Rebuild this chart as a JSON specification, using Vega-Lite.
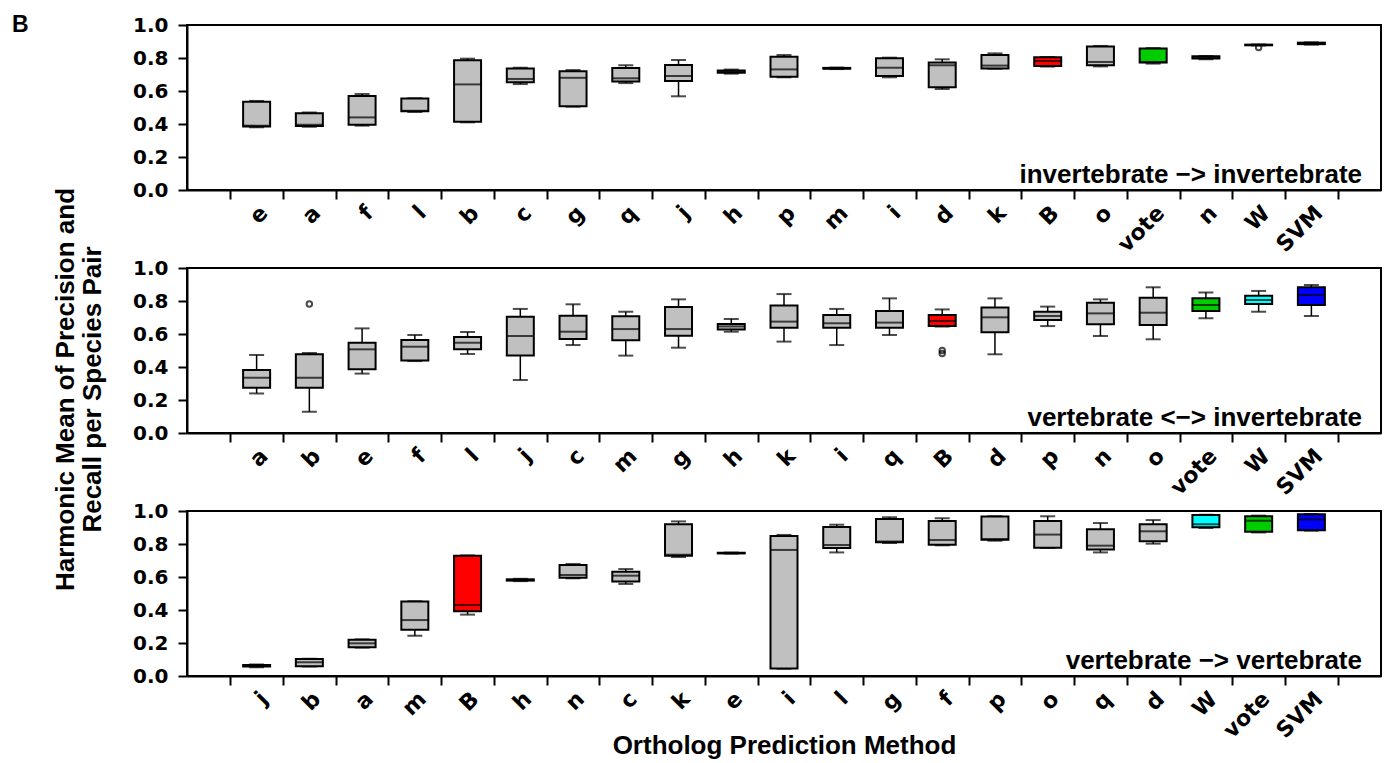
{
  "$schema": "https://vega.github.io/schema/vega-lite/v6.json",
  "padding": {"left": 12, "top": 14, "right": 5, "bottom": 5},
  "background": "white",
  "title": {"text": "B", "anchor": "start", "frame": "group", "dx": -175, "dy": 41, "offset": 0, "baseline": "alphabetic", "font": "Liberation Sans", "fontSize": 23, "fontWeight": "bold", "color": "black"},
  "bounds": "flush",
  "spacing": 78,
  "datasets": {
    "p1": [
      {"method": "e", "lower": 0.38, "q1": 0.385, "median": 0.39, "q3": 0.535, "upper": 0.54},
      {"method": "a", "lower": 0.383, "q1": 0.388, "median": 0.395, "q3": 0.465, "upper": 0.47},
      {"method": "f", "lower": 0.39, "q1": 0.395, "median": 0.44, "q3": 0.57, "upper": 0.582},
      {"method": "l", "lower": 0.473, "q1": 0.477, "median": 0.48, "q3": 0.554, "upper": 0.556},
      {"method": "b", "lower": 0.41, "q1": 0.414, "median": 0.64, "q3": 0.786, "upper": 0.796},
      {"method": "c", "lower": 0.642, "q1": 0.653, "median": 0.673, "q3": 0.737, "upper": 0.741},
      {"method": "g", "lower": 0.505, "q1": 0.508, "median": 0.68, "q3": 0.719, "upper": 0.727},
      {"method": "q", "lower": 0.648, "q1": 0.657, "median": 0.677, "q3": 0.739, "upper": 0.756},
      {"method": "j", "lower": 0.568, "q1": 0.661, "median": 0.691, "q3": 0.758, "upper": 0.788},
      {"method": "h", "lower": 0.705, "q1": 0.71, "median": 0.717, "q3": 0.725, "upper": 0.73},
      {"method": "p", "lower": 0.683, "q1": 0.687, "median": 0.731, "q3": 0.808, "upper": 0.818},
      {"method": "m", "lower": 0.733, "q1": 0.735, "median": 0.737, "q3": 0.74, "upper": 0.742},
      {"method": "i", "lower": 0.683, "q1": 0.691, "median": 0.741, "q3": 0.798, "upper": 0.802},
      {"method": "d", "lower": 0.612, "q1": 0.622, "median": 0.756, "q3": 0.772, "upper": 0.792},
      {"method": "k", "lower": 0.735, "q1": 0.737, "median": 0.754, "q3": 0.818, "upper": 0.828},
      {"method": "B", "lower": 0.748, "q1": 0.752, "median": 0.782, "q3": 0.804, "upper": 0.806},
      {"method": "o", "lower": 0.749, "q1": 0.756, "median": 0.776, "q3": 0.869, "upper": 0.873},
      {"method": "vote", "lower": 0.766, "q1": 0.772, "median": 0.775, "q3": 0.857, "upper": 0.86},
      {"method": "n", "lower": 0.792, "q1": 0.797, "median": 0.804, "q3": 0.81, "upper": 0.812},
      {"method": "W", "lower": 0.876, "q1": 0.877, "median": 0.879, "q3": 0.881, "upper": 0.882},
      {"method": "SVM", "lower": 0.881, "q1": 0.884, "median": 0.889, "q3": 0.893, "upper": 0.895}
    ],
    "o1": [
      {"method": "W", "value": 0.863}
    ],
    "p2": [
      {"method": "a", "lower": 0.24, "q1": 0.275, "median": 0.335, "q3": 0.382, "upper": 0.473},
      {"method": "b", "lower": 0.129, "q1": 0.275, "median": 0.335, "q3": 0.477, "upper": 0.485},
      {"method": "e", "lower": 0.36, "q1": 0.386, "median": 0.507, "q3": 0.547, "upper": 0.634},
      {"method": "f", "lower": 0.436, "q1": 0.44, "median": 0.523, "q3": 0.564, "upper": 0.594},
      {"method": "l", "lower": 0.479, "q1": 0.507, "median": 0.547, "q3": 0.582, "upper": 0.612},
      {"method": "j", "lower": 0.321, "q1": 0.469, "median": 0.588, "q3": 0.705, "upper": 0.752},
      {"method": "c", "lower": 0.533, "q1": 0.57, "median": 0.614, "q3": 0.711, "upper": 0.78},
      {"method": "m", "lower": 0.469, "q1": 0.562, "median": 0.63, "q3": 0.707, "upper": 0.735},
      {"method": "g", "lower": 0.517, "q1": 0.59, "median": 0.63, "q3": 0.764, "upper": 0.81},
      {"method": "h", "lower": 0.614, "q1": 0.628, "median": 0.646, "q3": 0.661, "upper": 0.691},
      {"method": "k", "lower": 0.554, "q1": 0.638, "median": 0.675, "q3": 0.772, "upper": 0.842},
      {"method": "i", "lower": 0.533, "q1": 0.638, "median": 0.665, "q3": 0.715, "upper": 0.752},
      {"method": "q", "lower": 0.594, "q1": 0.638, "median": 0.669, "q3": 0.739, "upper": 0.816},
      {"method": "B", "lower": 0.645, "q1": 0.648, "median": 0.679, "q3": 0.715, "upper": 0.749},
      {"method": "d", "lower": 0.477, "q1": 0.61, "median": 0.701, "q3": 0.76, "upper": 0.816},
      {"method": "p", "lower": 0.648, "q1": 0.685, "median": 0.709, "q3": 0.735, "upper": 0.766},
      {"method": "n", "lower": 0.588, "q1": 0.659, "median": 0.725, "q3": 0.79, "upper": 0.81},
      {"method": "o", "lower": 0.568, "q1": 0.655, "median": 0.729, "q3": 0.82, "upper": 0.883},
      {"method": "vote", "lower": 0.695, "q1": 0.739, "median": 0.776, "q3": 0.816, "upper": 0.851},
      {"method": "W", "lower": 0.735, "q1": 0.782, "median": 0.806, "q3": 0.832, "upper": 0.861},
      {"method": "SVM", "lower": 0.709, "q1": 0.776, "median": 0.836, "q3": 0.883, "upper": 0.897}
    ],
    "o2": [
      {"method": "b", "value": 0.782},
      {"method": "B", "value": 0.482},
      {"method": "B", "value": 0.5}
    ],
    "p3": [
      {"method": "j", "lower": 0.053, "q1": 0.057, "median": 0.062, "q3": 0.066, "upper": 0.07},
      {"method": "b", "lower": 0.057, "q1": 0.059, "median": 0.083, "q3": 0.103, "upper": 0.105},
      {"method": "a", "lower": 0.172, "q1": 0.174, "median": 0.198, "q3": 0.22, "upper": 0.222},
      {"method": "m", "lower": 0.244, "q1": 0.281, "median": 0.339, "q3": 0.451, "upper": 0.453},
      {"method": "B", "lower": 0.372, "q1": 0.392, "median": 0.43, "q3": 0.729, "upper": 0.731},
      {"method": "h", "lower": 0.575, "q1": 0.578, "median": 0.582, "q3": 0.586, "upper": 0.589},
      {"method": "n", "lower": 0.592, "q1": 0.596, "median": 0.612, "q3": 0.673, "upper": 0.679},
      {"method": "c", "lower": 0.558, "q1": 0.572, "median": 0.608, "q3": 0.632, "upper": 0.648},
      {"method": "k", "lower": 0.721, "q1": 0.729, "median": 0.735, "q3": 0.919, "upper": 0.937},
      {"method": "e", "lower": 0.742, "q1": 0.743, "median": 0.745, "q3": 0.747, "upper": 0.748},
      {"method": "i", "lower": 0.044, "q1": 0.046, "median": 0.764, "q3": 0.848, "upper": 0.855},
      {"method": "l", "lower": 0.749, "q1": 0.776, "median": 0.794, "q3": 0.903, "upper": 0.917},
      {"method": "g", "lower": 0.806, "q1": 0.81, "median": 0.815, "q3": 0.952, "upper": 0.962},
      {"method": "f", "lower": 0.792, "q1": 0.796, "median": 0.824, "q3": 0.939, "upper": 0.956},
      {"method": "p", "lower": 0.82, "q1": 0.826, "median": 0.83, "q3": 0.966, "upper": 0.968},
      {"method": "o", "lower": 0.776, "q1": 0.778, "median": 0.857, "q3": 0.939, "upper": 0.968},
      {"method": "q", "lower": 0.749, "q1": 0.766, "median": 0.79, "q3": 0.889, "upper": 0.927},
      {"method": "d", "lower": 0.802, "q1": 0.816, "median": 0.877, "q3": 0.919, "upper": 0.945},
      {"method": "W", "lower": 0.897, "q1": 0.901, "median": 0.919, "q3": 0.976, "upper": 0.978},
      {"method": "vote", "lower": 0.87, "q1": 0.875, "median": 0.941, "q3": 0.968, "upper": 0.972},
      {"method": "SVM", "lower": 0.881, "q1": 0.883, "median": 0.949, "q3": 0.98, "upper": 0.982}
    ]
  },
  "config": {
    "font": "Liberation Sans",
    "view": {"stroke": "black", "strokeWidth": 2},
    "axis": {"domainColor": "black", "domainWidth": 2, "tickColor": "black", "tickWidth": 2, "labelColor": "black", "titleColor": "black", "grid": false},
    "axisY": {"labelOverlap": false, "labelFont": "DejaVu Sans", "labelFontWeight": "bold", "labelFontSize": 20, "tickSize": 9, "labelPadding": 10, "labelBound": false, "format": ".1f"},
    "text": {"font": "Liberation Sans"}
  },
  "vconcat": [
    {
      "width": 1194, "height": 165,
      "layer": [
        {
          "data": {"name": "p1"},
          "mark": {"type": "rule", "color": "black", "strokeWidth": 1.5},
          "encoding": {
            "x": {"field": "method", "type": "nominal", "scale": {"domain": ["e","a","f","l","b","c","g","q","j","h","p","m","i","d","k","B","o","vote","n","W","SVM"], "paddingInner": 0, "paddingOuter": 0.82}, "axis": {"title": null, "tickBand": "extent", "labelAngle": -45, "labelAlign": "right", "labelBaseline": "top", "labelFont": "DejaVu Sans", "labelFontWeight": "bold", "labelFontSize": 22, "labelPadding": 3, "tickSize": 9, "labelOverlap": false, "labelBound": false}},
            "y": {"field": "lower", "type": "quantitative", "scale": {"domain": [0, 1], "nice": false}, "axis": {"title": null, "values": [0, 0.2, 0.4, 0.6, 0.8, 1], "format": ".1f", "labelOverlap": false}},
            "y2": {"field": "upper"}
          }
        },
        {
          "data": {"name": "p1"},
          "mark": {"type": "tick", "color": "black", "size": 15, "thickness": 2},
          "encoding": {"x": {"field": "method", "type": "nominal"}, "y": {"field": "lower", "type": "quantitative", "axis": {"title": null, "values": [0, 0.2, 0.4, 0.6, 0.8, 1], "format": ".1f", "labelOverlap": false}}}
        },
        {
          "data": {"name": "p1"},
          "mark": {"type": "tick", "color": "black", "size": 15, "thickness": 2},
          "encoding": {"x": {"field": "method", "type": "nominal"}, "y": {"field": "upper", "type": "quantitative", "axis": {"title": null, "values": [0, 0.2, 0.4, 0.6, 0.8, 1], "format": ".1f", "labelOverlap": false}}}
        },
        {
          "data": {"name": "p1"},
          "mark": {"type": "bar", "size": 27, "stroke": "black", "strokeWidth": 2},
          "encoding": {
            "x": {"field": "method", "type": "nominal"},
            "y": {"field": "q1", "type": "quantitative", "axis": {"title": null, "values": [0, 0.2, 0.4, 0.6, 0.8, 1], "format": ".1f", "labelOverlap": false}},
            "y2": {"field": "q3"},
            "fill": {"field": "method", "type": "nominal", "legend": null, "scale": {"domain": ["a","b","c","d","e","f","g","h","i","j","k","l","m","n","o","p","q","B","vote","W","SVM"], "range": ["#c0c0c0","#c0c0c0","#c0c0c0","#c0c0c0","#c0c0c0","#c0c0c0","#c0c0c0","#c0c0c0","#c0c0c0","#c0c0c0","#c0c0c0","#c0c0c0","#c0c0c0","#c0c0c0","#c0c0c0","#c0c0c0","#c0c0c0","#ff0000","#00cc00","#00ffff","#0000ff"]}}
          }
        },
        {
          "data": {"name": "p1"},
          "mark": {"type": "tick", "color": "black", "size": 27, "thickness": 2},
          "encoding": {"x": {"field": "method", "type": "nominal"}, "y": {"field": "median", "type": "quantitative", "axis": {"title": null, "values": [0, 0.2, 0.4, 0.6, 0.8, 1], "format": ".1f", "labelOverlap": false}}}
        },
        {
          "data": {"name": "o1"},
          "mark": {"type": "point", "shape": "circle", "size": 30, "stroke": "black", "strokeWidth": 2, "filled": false},
          "encoding": {"x": {"field": "method", "type": "nominal"}, "y": {"field": "value", "type": "quantitative", "axis": {"title": null, "values": [0, 0.2, 0.4, 0.6, 0.8, 1], "format": ".1f", "labelOverlap": false}}}
        },
        {
          "data": {"values": [{"label": "invertebrate \u2212> invertebrate"}]},
          "mark": {"type": "text", "align": "right", "baseline": "alphabetic", "dx": -19, "dy": -7, "font": "Liberation Sans", "fontSize": 26, "fontWeight": "bold", "color": "black"},
          "encoding": {"x": {"value": "width"}, "y": {"value": "height"}, "text": {"field": "label"}}
        }
      ]
    },
    {
      "width": 1194, "height": 165,
      "layer": [
        {
          "data": {"name": "p2"},
          "mark": {"type": "rule", "color": "black", "strokeWidth": 1.5},
          "encoding": {
            "x": {"field": "method", "type": "nominal", "scale": {"domain": ["a","b","e","f","l","j","c","m","g","h","k","i","q","B","d","p","n","o","vote","W","SVM"], "paddingInner": 0, "paddingOuter": 0.82}, "axis": {"title": null, "tickBand": "extent", "labelAngle": -45, "labelAlign": "right", "labelBaseline": "top", "labelFont": "DejaVu Sans", "labelFontWeight": "bold", "labelFontSize": 22, "labelPadding": 3, "tickSize": 9, "labelOverlap": false, "labelBound": false}},
            "y": {"field": "lower", "type": "quantitative", "scale": {"domain": [0, 1], "nice": false}, "axis": {"title": ["Harmonic Mean of Precision and", "Recall per Species Pair"], "titleFont": "Liberation Sans", "titleFontSize": 26, "titleFontWeight": "bold", "titleLineHeight": 27, "titleBaseline": "alphabetic", "titleAngle": -90, "titleAlign": "center", "titleX": -114, "titleY": 121, "values": [0, 0.2, 0.4, 0.6, 0.8, 1], "format": ".1f", "labelOverlap": false}},
            "y2": {"field": "upper"}
          }
        },
        {
          "data": {"name": "p2"},
          "mark": {"type": "tick", "color": "black", "size": 15, "thickness": 2},
          "encoding": {"x": {"field": "method", "type": "nominal"}, "y": {"field": "lower", "type": "quantitative", "axis": {"title": ["Harmonic Mean of Precision and", "Recall per Species Pair"], "titleFont": "Liberation Sans", "titleFontSize": 26, "titleFontWeight": "bold", "titleLineHeight": 27, "titleBaseline": "alphabetic", "titleAngle": -90, "titleAlign": "center", "titleX": -114, "titleY": 121, "values": [0, 0.2, 0.4, 0.6, 0.8, 1], "format": ".1f", "labelOverlap": false}}}
        },
        {
          "data": {"name": "p2"},
          "mark": {"type": "tick", "color": "black", "size": 15, "thickness": 2},
          "encoding": {"x": {"field": "method", "type": "nominal"}, "y": {"field": "upper", "type": "quantitative", "axis": {"title": ["Harmonic Mean of Precision and", "Recall per Species Pair"], "titleFont": "Liberation Sans", "titleFontSize": 26, "titleFontWeight": "bold", "titleLineHeight": 27, "titleBaseline": "alphabetic", "titleAngle": -90, "titleAlign": "center", "titleX": -114, "titleY": 121, "values": [0, 0.2, 0.4, 0.6, 0.8, 1], "format": ".1f", "labelOverlap": false}}}
        },
        {
          "data": {"name": "p2"},
          "mark": {"type": "bar", "size": 27, "stroke": "black", "strokeWidth": 2},
          "encoding": {
            "x": {"field": "method", "type": "nominal"},
            "y": {"field": "q1", "type": "quantitative", "axis": {"title": ["Harmonic Mean of Precision and", "Recall per Species Pair"], "titleFont": "Liberation Sans", "titleFontSize": 26, "titleFontWeight": "bold", "titleLineHeight": 27, "titleBaseline": "alphabetic", "titleAngle": -90, "titleAlign": "center", "titleX": -114, "titleY": 121, "values": [0, 0.2, 0.4, 0.6, 0.8, 1], "format": ".1f", "labelOverlap": false}},
            "y2": {"field": "q3"},
            "fill": {"field": "method", "type": "nominal", "legend": null, "scale": {"domain": ["a","b","c","d","e","f","g","h","i","j","k","l","m","n","o","p","q","B","vote","W","SVM"], "range": ["#c0c0c0","#c0c0c0","#c0c0c0","#c0c0c0","#c0c0c0","#c0c0c0","#c0c0c0","#c0c0c0","#c0c0c0","#c0c0c0","#c0c0c0","#c0c0c0","#c0c0c0","#c0c0c0","#c0c0c0","#c0c0c0","#c0c0c0","#ff0000","#00cc00","#00ffff","#0000ff"]}}
          }
        },
        {
          "data": {"name": "p2"},
          "mark": {"type": "tick", "color": "black", "size": 27, "thickness": 2},
          "encoding": {"x": {"field": "method", "type": "nominal"}, "y": {"field": "median", "type": "quantitative", "axis": {"title": ["Harmonic Mean of Precision and", "Recall per Species Pair"], "titleFont": "Liberation Sans", "titleFontSize": 26, "titleFontWeight": "bold", "titleLineHeight": 27, "titleBaseline": "alphabetic", "titleAngle": -90, "titleAlign": "center", "titleX": -114, "titleY": 121, "values": [0, 0.2, 0.4, 0.6, 0.8, 1], "format": ".1f", "labelOverlap": false}}}
        },
        {
          "data": {"name": "o2"},
          "mark": {"type": "point", "shape": "circle", "size": 30, "stroke": "black", "strokeWidth": 2, "filled": false},
          "encoding": {"x": {"field": "method", "type": "nominal"}, "y": {"field": "value", "type": "quantitative", "axis": {"title": ["Harmonic Mean of Precision and", "Recall per Species Pair"], "titleFont": "Liberation Sans", "titleFontSize": 26, "titleFontWeight": "bold", "titleLineHeight": 27, "titleBaseline": "alphabetic", "titleAngle": -90, "titleAlign": "center", "titleX": -114, "titleY": 121, "values": [0, 0.2, 0.4, 0.6, 0.8, 1], "format": ".1f", "labelOverlap": false}}}
        },
        {
          "data": {"values": [{"label": "vertebrate <\u2212> invertebrate"}]},
          "mark": {"type": "text", "align": "right", "baseline": "alphabetic", "dx": -19, "dy": -7, "font": "Liberation Sans", "fontSize": 26, "fontWeight": "bold", "color": "black"},
          "encoding": {"x": {"value": "width"}, "y": {"value": "height"}, "text": {"field": "label"}}
        }
      ]
    },
    {
      "width": 1194, "height": 165,
      "layer": [
        {
          "data": {"name": "p3"},
          "mark": {"type": "rule", "color": "black", "strokeWidth": 1.5},
          "encoding": {
            "x": {"field": "method", "type": "nominal", "scale": {"domain": ["j","b","a","m","B","h","n","c","k","e","i","l","g","f","p","o","q","d","W","vote","SVM"], "paddingInner": 0, "paddingOuter": 0.82}, "axis": {"title": "Ortholog Prediction Method", "titleFont": "Liberation Sans", "titleFontSize": 26, "titleFontWeight": "bold", "titleBaseline": "alphabetic", "titleY": 77, "tickBand": "extent", "labelAngle": -45, "labelAlign": "right", "labelBaseline": "top", "labelFont": "DejaVu Sans", "labelFontWeight": "bold", "labelFontSize": 22, "labelPadding": 3, "tickSize": 9, "labelOverlap": false, "labelBound": false}},
            "y": {"field": "lower", "type": "quantitative", "scale": {"domain": [0, 1], "nice": false}, "axis": {"title": null, "values": [0, 0.2, 0.4, 0.6, 0.8, 1], "format": ".1f", "labelOverlap": false}},
            "y2": {"field": "upper"}
          }
        },
        {
          "data": {"name": "p3"},
          "mark": {"type": "tick", "color": "black", "size": 15, "thickness": 2},
          "encoding": {"x": {"field": "method", "type": "nominal"}, "y": {"field": "lower", "type": "quantitative", "axis": {"title": null, "values": [0, 0.2, 0.4, 0.6, 0.8, 1], "format": ".1f", "labelOverlap": false}}}
        },
        {
          "data": {"name": "p3"},
          "mark": {"type": "tick", "color": "black", "size": 15, "thickness": 2},
          "encoding": {"x": {"field": "method", "type": "nominal"}, "y": {"field": "upper", "type": "quantitative", "axis": {"title": null, "values": [0, 0.2, 0.4, 0.6, 0.8, 1], "format": ".1f", "labelOverlap": false}}}
        },
        {
          "data": {"name": "p3"},
          "mark": {"type": "bar", "size": 27, "stroke": "black", "strokeWidth": 2},
          "encoding": {
            "x": {"field": "method", "type": "nominal"},
            "y": {"field": "q1", "type": "quantitative", "axis": {"title": null, "values": [0, 0.2, 0.4, 0.6, 0.8, 1], "format": ".1f", "labelOverlap": false}},
            "y2": {"field": "q3"},
            "fill": {"field": "method", "type": "nominal", "legend": null, "scale": {"domain": ["a","b","c","d","e","f","g","h","i","j","k","l","m","n","o","p","q","B","vote","W","SVM"], "range": ["#c0c0c0","#c0c0c0","#c0c0c0","#c0c0c0","#c0c0c0","#c0c0c0","#c0c0c0","#c0c0c0","#c0c0c0","#c0c0c0","#c0c0c0","#c0c0c0","#c0c0c0","#c0c0c0","#c0c0c0","#c0c0c0","#c0c0c0","#ff0000","#00cc00","#00ffff","#0000ff"]}}
          }
        },
        {
          "data": {"name": "p3"},
          "mark": {"type": "tick", "color": "black", "size": 27, "thickness": 2},
          "encoding": {"x": {"field": "method", "type": "nominal"}, "y": {"field": "median", "type": "quantitative", "axis": {"title": null, "values": [0, 0.2, 0.4, 0.6, 0.8, 1], "format": ".1f", "labelOverlap": false}}}
        },
        {
          "data": {"values": [{"label": "vertebrate \u2212> vertebrate"}]},
          "mark": {"type": "text", "align": "right", "baseline": "alphabetic", "dx": -19, "dy": -7, "font": "Liberation Sans", "fontSize": 26, "fontWeight": "bold", "color": "black"},
          "encoding": {"x": {"value": "width"}, "y": {"value": "height"}, "text": {"field": "label"}}
        }
      ]
    }
  ]
}
